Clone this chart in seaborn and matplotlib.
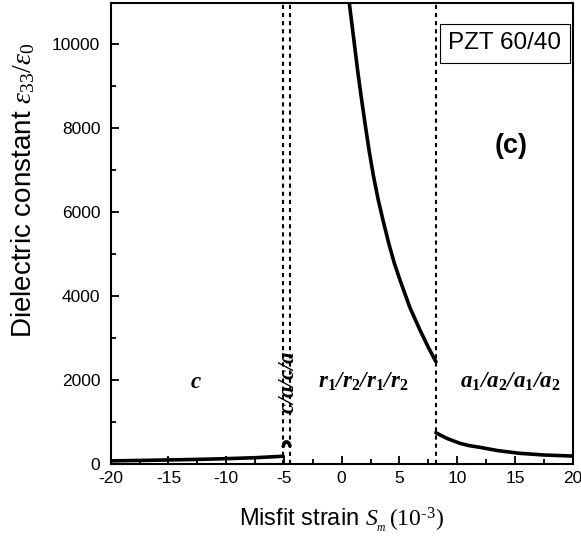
import matplotlib
matplotlib.use("Agg")
import matplotlib.pyplot as plt
import seaborn as sns
import pandas as pd

# Phase boundaries (misfit strain, 10^-3)
boundaries = [-5.06, -4.48, 8.16]

# c phase
c_strain = [-20.0, -17.5, -15.0, -12.5, -10.0, -7.5, -5.06]
c_eps = [75, 85, 97, 110, 127, 150, 185]

# c/a/c/a phase (narrow window)
ca_strain = [-5.06, -4.98, -4.85, -4.7, -4.58, -4.48]
ca_eps = [420, 500, 525, 525, 500, 430]

# r1/r2/r1/r2 phase
r_strain = [0.66, 1.1, 1.4, 1.73, 2.0, 2.4, 2.75, 3.17, 3.6, 4.1, 4.55,
            5.05, 5.9, 6.78, 7.5, 8.16]
r_eps = [10976, 10000, 9330, 8667, 8150, 7420, 6860, 6286, 5780, 5230, 4790,
         4381, 3730, 3190, 2780, 2436]

# a1/a2/a1/a2 phase
a_strain = [8.16, 8.6, 9.2, 10.24, 11.0, 11.97, 13.5, 15.4, 17.5, 20.0]
a_eps = [745, 680, 600, 493, 440, 397, 320, 255, 215, 190]

x_ticks = [-20, -15, -10, -5, 0, 5, 10, 15, 20]
y_ticks = [0, 2000, 4000, 6000, 8000, 10000]

sns.set_style("ticks")
plt.rcParams["font.family"] = ["Liberation Sans", "DejaVu Sans"]
plt.rcParams["text.color"] = "black"
plt.rcParams["axes.labelcolor"] = "black"
plt.rcParams["xtick.color"] = "black"
plt.rcParams["ytick.color"] = "black"
plt.rcParams["mathtext.fontset"] = "custom"
plt.rcParams["mathtext.rm"] = "Liberation Serif"
plt.rcParams["mathtext.it"] = "Liberation Serif:italic"
plt.rcParams["mathtext.bf"] = "Liberation Serif:bold"
plt.rcParams["mathtext.bfit"] = "Liberation Serif:bold:italic"

fig = plt.figure(figsize=(5.81, 5.45), dpi=100)
ax = fig.add_axes([0.1905, 0.1486, 0.7952, 0.8459])

segments = [(c_strain, c_eps), (ca_strain, ca_eps), (r_strain, r_eps), (a_strain, a_eps)]
for xs, ys in segments:
    df = pd.DataFrame({"strain": xs, "eps": ys})
    sns.lineplot(data=df, x="strain", y="eps", color="black", lw=2.6,
                 estimator=None, sort=False, ax=ax)

for b in boundaries:
    ax.axvline(b, color="black", lw=1.5, linestyle=(0, (2.0, 1.9)), zorder=1)

ax.set_xlim(-20, 20)
ax.set_ylim(0, 10980)
ax.set_xticks(x_ticks)
ax.set_xticklabels([str(t) for t in x_ticks])
ax.set_yticks(y_ticks)
ax.set_yticklabels([str(t) for t in y_ticks])
ax.xaxis.set_minor_locator(matplotlib.ticker.MultipleLocator(2.5))
ax.yaxis.set_minor_locator(matplotlib.ticker.MultipleLocator(1000))
ax.tick_params(which="both", direction="in", width=1.3, labelsize=12.5,
               colors="black")
ax.tick_params(axis="x", which="both", pad=5)
ax.tick_params(axis="y", which="both", pad=7.5)
ax.tick_params(which="major", length=6)
ax.tick_params(which="minor", length=3.5)
for s in ax.spines.values():
    s.set_linewidth(1.5)
    s.set_color("black")

ax.set_xlabel(r"Misfit strain $S_{_m}\,(10^{\text{-}3})$", fontsize=17, labelpad=14)
ax.set_ylabel(r"Dielectric constant $\varepsilon_{33}/\varepsilon_{0}$", fontsize=20)
ax.yaxis.set_label_coords(-0.16, 0.594)

ax.text(0.853, 0.913, "PZT 60/40", transform=ax.transAxes, fontsize=17.5,
        ha="center", va="center",
        bbox=dict(boxstyle="square,pad=0.35", fc="white", ec="black", lw=0.8))
ax.text(14.66, 7570, "(c)", fontsize=19.5, fontweight="bold", ha="center", va="center")

lab = 16.5
ax.text(-12.6, 1960, r"$\mathbfit{c}$", fontsize=lab, ha="center", va="center")
ax.text(-4.7, 1960, r"$\mathbfit{c/a/c/a}$", fontsize=lab, ha="center", va="center",
        rotation=90)
ax.text(1.9, 1960,
        r"$\mathbfit{r}_\mathbf{1}\mathbfit{/r}_\mathbf{2}\mathbfit{/r}_\mathbf{1}\mathbfit{/r}_\mathbf{2}$",
        fontsize=lab, ha="center", va="center")
ax.text(14.6, 1960,
        r"$\mathbfit{a}_\mathbf{1}\mathbfit{/a}_\mathbf{2}\mathbfit{/a}_\mathbf{1}\mathbfit{/a}_\mathbf{2}$",
        fontsize=lab, ha="center", va="center")

fig.savefig("out.png", dpi=100)
